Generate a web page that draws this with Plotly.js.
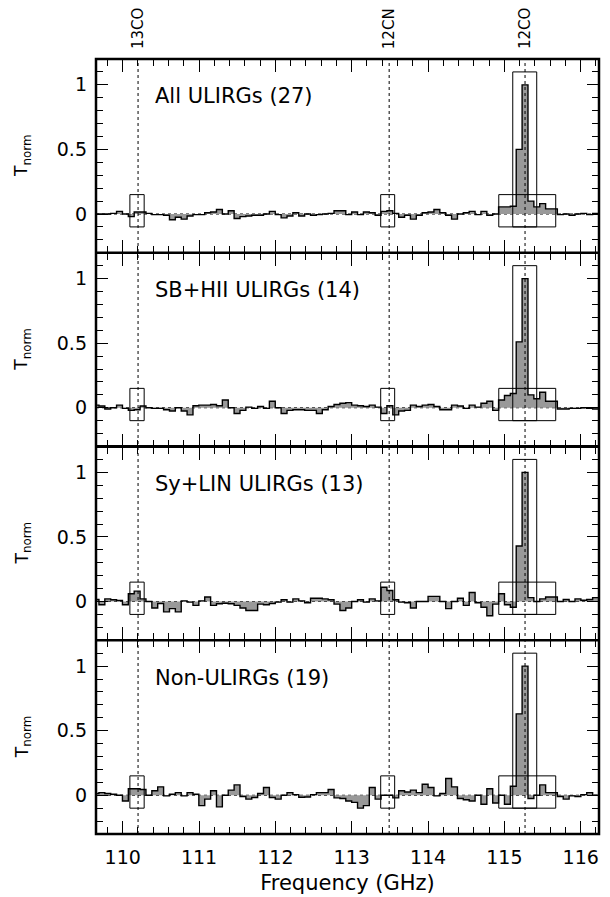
<!DOCTYPE html>
<html>
<head>
<meta charset="utf-8">
<script src="https://cdn.plot.ly/plotly-3.0.1.min.js"></script>
<style>html,body{margin:0;padding:0;background:#fff;}#chart{width:610px;height:897px;}</style>
</head>
<body>
<div id="chart"></div>
<script>
// Channel centre frequencies (GHz)
const freq = [
109.650,109.727,109.804,109.881,109.958,110.035,110.112,110.189,110.266,110.343,
110.420,110.497,110.574,110.651,110.728,110.805,110.882,110.959,111.036,111.113,
111.190,111.267,111.344,111.421,111.498,111.575,111.652,111.729,111.806,111.883,
111.960,112.037,112.114,112.191,112.268,112.345,112.422,112.499,112.576,112.653,
112.730,112.807,112.884,112.961,113.038,113.115,113.192,113.269,113.346,113.423,
113.500,113.577,113.654,113.731,113.808,113.885,113.962,114.039,114.116,114.193,
114.270,114.347,114.424,114.501,114.578,114.655,114.732,114.809,114.886,114.963,
115.040,115.117,115.194,115.271,115.348,115.425,115.502,115.579,115.656,115.733,
115.810,115.887,115.964,116.041,116.118,116.195,116.272];

// Normalised stacked spectra
const allUlirgs = [
0.0,0.0,0.0,0.005,0.02,0.0,-0.02,0.015,0.015,0.005,
-0.005,-0.005,-0.01,-0.045,-0.025,-0.04,-0.015,-0.005,-0.005,0.01,
0.015,0.035,0.0,0.025,-0.035,-0.02,-0.015,-0.01,-0.01,0.0,
0.02,-0.005,-0.03,-0.015,0.01,-0.015,0.0,-0.01,-0.005,0.0,
0.005,0.025,0.025,-0.005,0.015,-0.005,0.015,0.01,-0.01,0.02,
0.025,0.005,-0.025,-0.01,-0.04,-0.01,0.01,0.015,0.035,0.01,
-0.01,-0.04,0.0,0.01,0.02,-0.005,0.02,-0.01,0.0,0.055,
0.055,0.06,0.5,1.0,0.1,0.055,0.08,0.04,0.04,-0.005,
0.0,-0.01,0.0,0.005,-0.005,0.005,0.0];

const sbHiiUlirgs = [
0.02,0.013,-0.01,0.0,0.02,-0.005,-0.02,-0.015,0.013,0.0,
-0.005,-0.005,-0.015,-0.025,0.0,-0.025,-0.055,0.015,0.02,0.02,
0.025,0.015,0.06,0.0,-0.045,-0.02,0.005,-0.005,0.01,-0.005,
0.05,0.0,-0.045,-0.02,-0.015,-0.015,-0.02,-0.02,-0.045,-0.015,
0.01,0.025,0.035,0.04,0.02,0.015,0.01,0.02,0.005,-0.045,
0.015,-0.055,-0.025,-0.02,0.02,0.01,0.02,0.025,0.01,-0.015,
-0.015,0.02,0.013,-0.005,0.02,0.005,0.035,0.05,-0.02,0.06,
0.095,0.11,0.51,1.0,0.1,0.07,0.12,0.05,0.05,-0.01,
-0.01,-0.005,-0.005,0.0,-0.005,-0.01,-0.01];

const syLinUlirgs = [
0.015,-0.025,0.02,0.013,0.008,-0.025,0.06,0.08,0.02,0.0,
-0.05,-0.015,-0.08,-0.055,-0.08,0.005,-0.005,-0.03,0.005,0.035,
-0.03,-0.018,-0.013,-0.018,-0.03,-0.05,-0.07,-0.07,-0.02,-0.025,
-0.015,-0.005,0.013,-0.005,0.02,0.005,-0.01,0.025,0.025,0.02,
0.013,-0.02,-0.07,-0.05,0.0,0.013,-0.005,0.02,0.005,0.11,
0.085,0.013,-0.005,-0.01,-0.05,0.0,0.0,0.04,0.04,0.0,
-0.055,0.0,0.025,-0.03,0.07,-0.01,-0.045,-0.11,-0.02,0.06,
-0.025,-0.045,0.43,1.0,0.03,0.0,0.02,0.035,0.035,0.0,
0.015,0.0,0.02,0.01,0.015,0.03,0.03];

const nonUlirgs = [
0.013,0.02,0.013,0.008,0.0,-0.045,0.05,0.05,0.045,0.0,
0.035,0.065,-0.005,0.008,0.02,-0.005,0.02,0.008,-0.08,-0.03,
0.035,-0.09,0.0,0.04,0.08,-0.01,-0.03,-0.018,0.013,0.06,
-0.018,-0.03,0.0,0.02,0.005,-0.015,-0.013,0.005,0.02,0.02,
0.045,-0.02,-0.025,-0.045,-0.055,-0.1,-0.08,0.06,-0.03,0.0,
0.0,-0.02,0.035,0.025,0.04,0.02,0.085,0.06,-0.005,0.013,
0.13,0.065,-0.025,-0.035,-0.045,0.0,-0.07,0.05,-0.06,0.0,
-0.07,0.07,0.63,1.0,-0.025,0.0,0.08,0.02,0.02,-0.01,
-0.03,-0.005,-0.01,0.005,0.02,0.0,0.0];

const panelLabels = ['All ULIRGs (27)','SB+HII ULIRGs (14)','Sy+LIN ULIRGs (13)','Non-ULIRGs (19)'];
const panelSeries = [allUlirgs, sbHiiUlirgs, syLinUlirgs, nonUlirgs];

const lineNames = ['13CO','12CN','12CO'];
const lineFreqs = [110.201, 113.491, 115.271];

// Boxes: [x0, x1, y0, y1]
const boxes = [
  [110.094, 110.281, -0.1, 0.15],
  [113.380, 113.563, -0.1, 0.15],
  [114.927, 115.673, -0.1, 0.15],
  [115.110, 115.424, -0.1, 1.1]
];

const FONT = 'DejaVu Sans, Arial, sans-serif';
const xRange = [109.65, 116.24];
const yRange = [-0.3, 1.2];

const traces = [];
const layout = {
  width: 610, height: 897,
  margin: {l: 96, r: 11, t: 59, b: 63},
  paper_bgcolor: '#fff', plot_bgcolor: '#fff',
  showlegend: false,
  font: {family: FONT, color: '#000', size: 19},
  shapes: [], annotations: []
};

for (let p = 0; p < 4; p++) {
  const s = p === 0 ? '' : String(p + 1);
  const xa = 'x' + s, ya = 'y' + s;
  traces.push({
    type: 'scatter', mode: 'lines', x: freq, y: panelSeries[p],
    xaxis: xa, yaxis: ya,
    line: {shape: 'hvh', color: '#000', width: 1.4},
    fill: 'tozeroy', fillcolor: '#999999', hoverinfo: 'skip'
  });
  const top = 1 - p * 0.25, bot = 1 - (p + 1) * 0.25;
  const xax = {
    domain: [0, 1], anchor: ya, range: xRange,
    showline: true, linewidth: 1.2, linecolor: '#000', mirror: 'ticks',
    ticks: 'inside', ticklen: 13, tickwidth: 1, tickcolor: '#000',
    tick0: 110, dtick: 1,
    minor: {ticks: 'inside', ticklen: 7, tickwidth: 1, tickcolor: '#000', dtick: 0.2},
    showgrid: false, zeroline: false,
    showticklabels: p === 3,
    tickfont: {family: FONT, size: 19, color: '#000'},
    ticklabelstandoff: 6
  };
  if (p === 3) xax.title = {text: 'Frequency (GHz)', font: {family: FONT, size: 21, color: '#000'}, standoff: 8};
  layout['xaxis' + s] = xax;
  layout['yaxis' + s] = {
    domain: [bot, top], anchor: xa, range: yRange,
    showline: true, linewidth: 1.2, linecolor: '#000', mirror: 'ticks',
    ticks: 'inside', ticklen: 12, tickwidth: 1, tickcolor: '#000',
    tick0: 0, dtick: 0.5,
    minor: {ticks: 'inside', ticklen: 7, tickwidth: 1, tickcolor: '#000', dtick: 0.1},
    showgrid: false, zeroline: false,
    tickfont: {family: FONT, size: 19, color: '#000'},
    ticklabelstandoff: 4
  };
  // zero dotted line
  layout.shapes.push({type: 'line', xref: xa + ' domain', yref: ya, x0: 0, x1: 1, y0: 0, y1: 0,
    line: {color: '#000', width: 1, dash: 'dot'}, layer: 'below'});
  // boxes
  boxes.forEach(b => layout.shapes.push({type: 'rect', xref: xa, yref: ya,
    x0: b[0], x1: b[1], y0: b[2], y1: b[3], line: {color: '#000', width: 1}, fillcolor: 'rgba(0,0,0,0)', layer: 'above'}));
  // panel label
  layout.annotations.push({xref: xa, yref: ya, x: 110.40, y: 0.91, xanchor: 'left', yanchor: 'middle',
    text: panelLabels[p], showarrow: false, font: {family: FONT, size: 21, color: '#000'}});
  // y title
  layout.annotations.push({xref: 'paper', yref: ya + ' domain', x: 0, y: 0.5, xshift: -73,
    xanchor: 'center', yanchor: 'middle', textangle: -90, text: 'T<sub>norm</sub>', showarrow: false,
    font: {family: FONT, size: 17, color: '#000'}});
}

// thick outer frame and panel separators
layout.shapes.push({type: 'rect', xref: 'paper', yref: 'paper', x0: 0, x1: 1, y0: 0, y1: 1,
  line: {color: '#000', width: 2.5}, fillcolor: 'rgba(0,0,0,0)', layer: 'above'});
[0.25, 0.5, 0.75].forEach(yp => layout.shapes.push({type: 'line', xref: 'paper', yref: 'paper',
  x0: 0, x1: 1, y0: yp, y1: yp, line: {color: '#000', width: 2.5}, layer: 'above'}));

// vertical dotted lines for the spectral lines and their labels
lineFreqs.forEach((f, i) => {
  layout.shapes.push({type: 'line', xref: 'x', yref: 'paper', x0: f, x1: f, y0: 0, y1: 1,
    line: {color: '#000', width: 1, dash: 'dot'}, layer: 'above'});
  layout.annotations.push({xref: 'x', yref: 'paper', x: f, y: 1, yshift: 30, xanchor: 'center', yanchor: 'middle',
    textangle: -90, text: lineNames[i], showarrow: false, font: {family: FONT, size: 15, color: '#000'}});
});

Plotly.newPlot('chart', traces, layout, {staticPlot: true});
</script>
</body>
</html>
